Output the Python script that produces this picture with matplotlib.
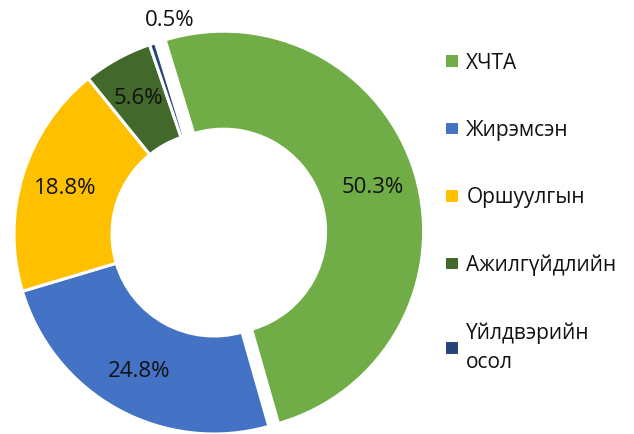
import matplotlib
matplotlib.use('Agg')
import matplotlib.pyplot as plt

plt.rcParams['font.family'] = ['Open Sans', 'Noto Sans', 'DejaVu Sans']

# =========================
# DATA
# =========================
categories = ['ХЧТА', 'Жирэмсэн', 'Оршуулгын', 'Ажилгүйдлийн', 'Үйлдвэрийн\nосол']
shares = [50.3, 24.8, 18.8, 5.6, 0.5]
colors = ['#70AD47', '#4472C4', '#FFC000', '#43682B', '#264478']
explode = [0.05, 0, 0, 0, 0]

W, H = 634, 435
fig = plt.figure(figsize=(W / 100, H / 100), dpi=100)

# donut centre (px) and outer radius (px)
cx, cy, R = 214, 235, 200
lim = 1.12
side = 2 * lim * R
ax = fig.add_axes([(cx - lim * R) / W, (H - cy - lim * R) / H, side / W, side / H])

wedges, texts, autotexts = ax.pie(
    shares, colors=colors, explode=explode, startangle=107, counterclock=False,
    radius=1.0, autopct='%1.1f%%', pctdistance=0.78,
    wedgeprops=dict(width=0.49, edgecolor='white', linewidth=2.2),
    textprops=dict(fontsize=16, color='#111111'))
ax.set_xlim(-lim, lim)
ax.set_ylim(-lim, lim)
ax.axis('off')

# small slice label sits outside, above the ring
autotexts[-1].set_position((-0.22, 1.07))

leg = fig.legend(wedges, categories, loc='upper left',
                 bbox_to_anchor=(444 / W, 1 - 53 / H),
                 frameon=False, fontsize=15, borderpad=0, borderaxespad=0,
                 handlelength=0.72, handleheight=0.72, handletextpad=0.35,
                 labelspacing=2.22)
for t in leg.get_texts():
    t.set_color('#111111')
    t.set_linespacing(1.5)

plt.savefig('out.png', dpi=100, facecolor='white')
